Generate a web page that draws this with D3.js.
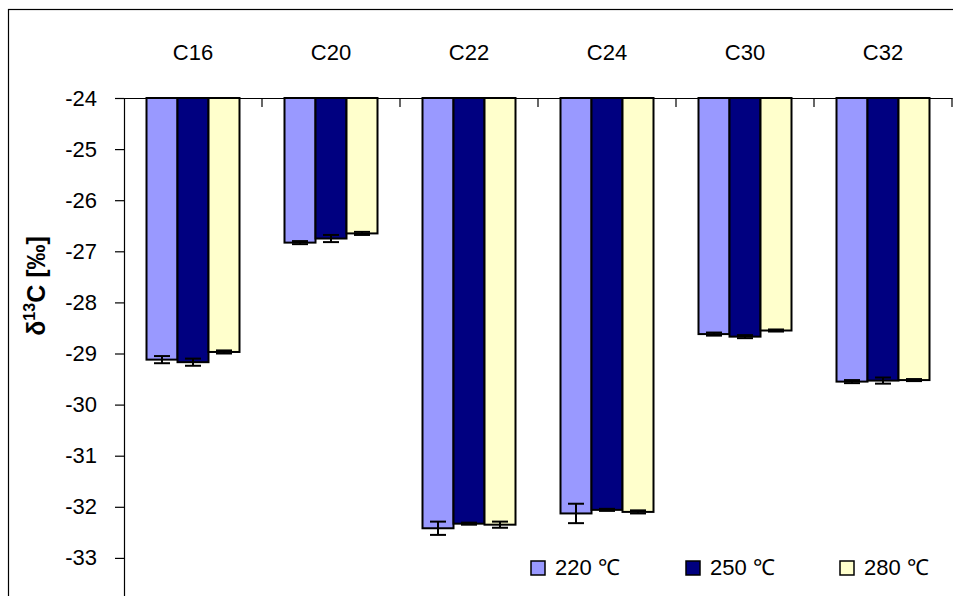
<!DOCTYPE html>
<html>
<head>
<meta charset="utf-8">
<script src="https://cdn.jsdelivr.net/npm/d3@7/dist/d3.min.js"></script>
<style>
  html, body { margin: 0; padding: 0; background: #fff; }
  svg { display: block; font-family: "Liberation Sans", Arial, sans-serif; }
</style>
</head>
<body>
<svg id="chart" width="953" height="596"></svg>
<script>
const categories = ["C16", "C20", "C22", "C24", "C30", "C32"];
const seriesNames = ["220 ℃", "250 ℃", "280 ℃"];
const values220 = [-29.12, -26.83, -32.42, -32.13, -28.62, -29.55];
const values250 = [-29.17, -26.75, -32.33, -32.06, -28.67, -29.53];
const values280 = [-28.97, -26.65, -32.35, -32.10, -28.55, -29.52];
const err220 = [0.07, 0.03, 0.13, 0.19, 0.03, 0.03];
const err250 = [0.07, 0.07, 0.02, 0.02, 0.03, 0.06];
const err280 = [0.03, 0.03, 0.06, 0.03, 0.02, 0.02];
const yTicks = [-24, -25, -26, -27, -28, -29, -30, -31, -32, -33];
const colors = ["#9999FF", "#000080", "#FFFFCC"];

const seriesValues = [values220, values250, values280];
const seriesErrors = [err220, err250, err280];

const svg = d3.select("#chart");

// outer chart border (extends past the bottom/right edge)
svg.append("rect")
  .attr("x", 8.5).attr("y", 9.5)
  .attr("width", 1000).attr("height", 700)
  .attr("fill", "none").attr("stroke", "#000").attr("stroke-width", 1.2);

const plotLeft = 124, plotRight = 952, plotTop = 98;

const y = d3.scaleLinear().domain([-24, -34]).range([plotTop, plotTop + 511]);
const x0 = d3.scaleBand().domain(categories).range([plotLeft, plotRight]).paddingInner(0).paddingOuter(0);
const x1 = d3.scaleBand().domain(d3.range(3)).range([22.5, x0.bandwidth() - 22.5]).padding(0);

// bars
categories.forEach((c, ci) => {
  seriesValues.forEach((vals, si) => {
    const bx = x0(c) + x1(si);
    svg.append("rect")
      .attr("x", bx)
      .attr("y", y(-24))
      .attr("width", x1.bandwidth())
      .attr("height", y(vals[ci]) - y(-24))
      .attr("fill", colors[si])
      .attr("stroke", "#000")
      .attr("stroke-width", 2);
  });
});

// error bars
categories.forEach((c, ci) => {
  seriesValues.forEach((vals, si) => {
    const cx = x0(c) + x1(si) + x1.bandwidth() / 2;
    const v = vals[ci], e = seriesErrors[si][ci];
    const g = svg.append("g").attr("stroke", "#000").attr("stroke-width", 2);
    g.append("line").attr("x1", cx).attr("x2", cx).attr("y1", y(v - e)).attr("y2", y(v + e));
    [v - e, v + e].forEach(t => {
      g.append("line").attr("x1", cx - 8).attr("x2", cx + 8).attr("y1", y(t)).attr("y2", y(t));
    });
  });
});

// y axis
const yAxis = d3.axisLeft(y).tickValues(yTicks).tickSize(9).tickPadding(18).tickFormat(d => String(d));
const gy = svg.append("g").attr("transform", `translate(${plotLeft},0)`).call(yAxis);
gy.select(".domain").attr("stroke-width", 1.2);
gy.selectAll(".tick line").attr("stroke-width", 1.2);
gy.selectAll(".tick text").attr("font-size", 22).attr("font-family", "Liberation Sans, Arial, sans-serif").attr("fill", "#000");

// top category axis
const xAxis = d3.axisTop(x0).tickSize(0).tickPadding(38);
const gx = svg.append("g").attr("transform", `translate(0,${plotTop})`).call(xAxis);
gx.select(".domain").attr("stroke-width", 1.2);
gx.selectAll(".tick text").attr("font-size", 22).attr("font-family", "Liberation Sans, Arial, sans-serif").attr("fill", "#000");
// category boundary tick marks (pointing into the plot)
svg.append("g").selectAll("line")
  .data(categories.slice(1).concat(["__end"]))
  .join("line")
  .attr("x1", d => d === "__end" ? plotRight : x0(d))
  .attr("x2", d => d === "__end" ? plotRight : x0(d))
  .attr("y1", plotTop).attr("y2", plotTop + 9)
  .attr("stroke", "#000").attr("stroke-width", 1.2);

// y title
const title = svg.append("text")
  .attr("transform", "translate(45,286) rotate(-90)")
  .attr("text-anchor", "middle")
  .attr("font-size", 25).attr("font-weight", "bold").attr("fill", "#000");
title.append("tspan").text("δ");
title.append("tspan").attr("font-size", 16).attr("dy", -10).text("13");
title.append("tspan").attr("dy", 10).text("C [‰]");

// legend
const legendX = [531, 686, 840];
seriesNames.forEach((name, i) => {
  svg.append("rect")
    .attr("x", legendX[i]).attr("y", 561)
    .attr("width", 14).attr("height", 14)
    .attr("fill", colors[i]).attr("stroke", "#000").attr("stroke-width", 1.5);
  svg.append("text")
    .attr("x", legendX[i] + 24).attr("y", 575)
    .attr("font-size", 22).attr("fill", "#000")
    .text(name);
});
</script>
</body>
</html>
